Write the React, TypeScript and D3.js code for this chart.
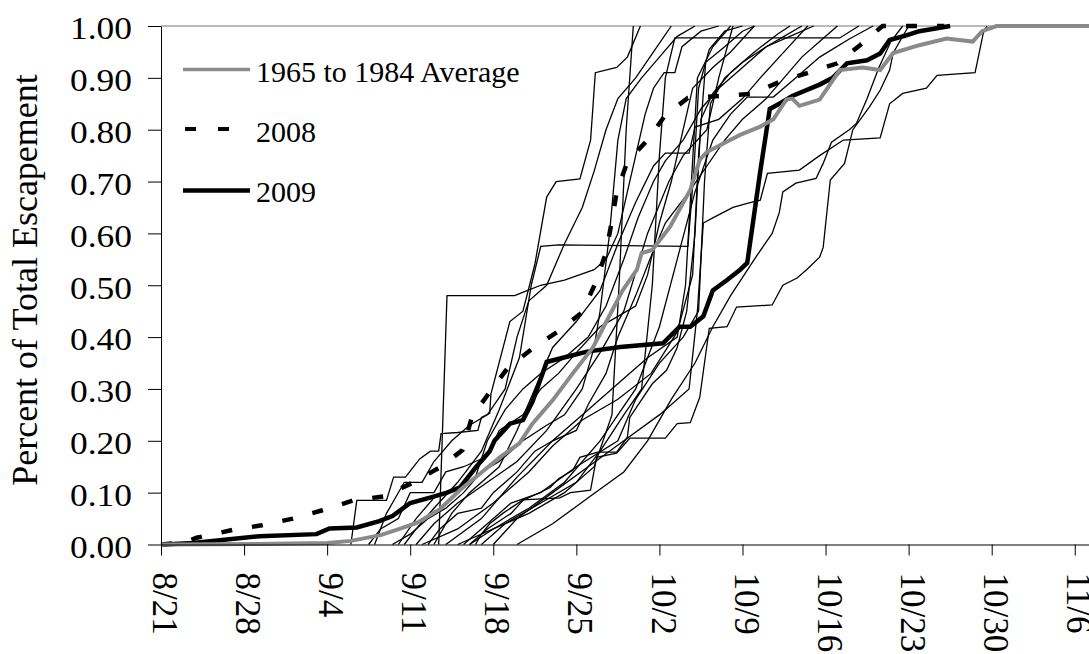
import React, { useRef, useEffect } from "react";
import { select, scaleLinear, line, axisBottom, axisLeft } from "d3";

// x values are days after 8/21
const tickDays = [0, 7, 14, 21, 28, 35, 42, 49, 56, 63, 70, 77];
const tickLabels = ["8/21", "8/28", "9/4", "9/11", "9/18", "9/25", "10/2", "10/9", "10/16", "10/23", "10/30", "11/6"];
const yTicks = [0, 0.1, 0.2, 0.3, 0.4, 0.5, 0.6, 0.7, 0.8, 0.9, 1.0];

const average = [[0, 0], [8, 0.001], [14, 0.003], [16, 0.007], [18.5, 0.018], [20.1, 0.03], [21.6, 0.042], [23.5, 0.068], [25.2, 0.105], [26.9, 0.137], [28.6, 0.169], [30.2, 0.195], [31.3, 0.233], [33.0, 0.278], [34.7, 0.33], [36.4, 0.38], [37.6, 0.433], [38.9, 0.49], [40.1, 0.53], [40.5, 0.562], [41.4, 0.568], [42.9, 0.613], [44.6, 0.684], [45.4, 0.742], [46.0, 0.757], [47.1, 0.77], [48.8, 0.79], [50.5, 0.806], [51.6, 0.82], [52.7, 0.858], [53.2, 0.86], [53.8, 0.846], [55.5, 0.858], [57.2, 0.915], [59.1, 0.92], [60.6, 0.915], [61.7, 0.948], [63.9, 0.963], [66.2, 0.976], [68.4, 0.97], [69.2, 0.99], [70.4, 1.0], [78.2, 1.0]];

const run2008 = [[0, 0], [2, 0.004], [3, 0.013], [6, 0.028], [8.5, 0.037], [11.1, 0.05], [13.6, 0.066], [16.2, 0.085], [18.8, 0.093], [21.1, 0.118], [23.6, 0.15], [25.4, 0.182], [26.2, 0.246], [27.7, 0.294], [29.2, 0.34], [31.3, 0.378], [33.4, 0.41], [35.5, 0.448], [36.6, 0.504], [37.5, 0.563], [38.0, 0.625], [38.4, 0.68], [39.3, 0.738], [41.0, 0.78], [42.5, 0.828], [44.4, 0.861], [47.1, 0.865], [49.8, 0.869], [52.1, 0.892], [54.7, 0.911], [57.0, 0.928], [58.9, 0.963], [60.8, 1.0], [66, 1.0]];

const run2009 = [[0.2, 0], [2.7, 0.003], [8.3, 0.016], [13.1, 0.02], [14.2, 0.031], [16.5, 0.033], [18.4, 0.045], [19.5, 0.055], [21.0, 0.08], [22.9, 0.092], [24.1, 0.1], [25.2, 0.11], [26.5, 0.148], [27.7, 0.18], [28.1, 0.2], [29.4, 0.233], [30.5, 0.24], [31.3, 0.275], [32.5, 0.352], [34.2, 0.362], [35.9, 0.372], [38.7, 0.381], [42.3, 0.388], [43.7, 0.42], [44.6, 0.42], [45.7, 0.44], [46.5, 0.49], [47.7, 0.51], [48.8, 0.53], [49.4, 0.543], [50.5, 0.72], [51.3, 0.84], [52.1, 0.85], [53.2, 0.865], [55.5, 0.887], [56.6, 0.9], [57.8, 0.928], [59.5, 0.934], [60.6, 0.947], [61.4, 0.973], [62.8, 0.982], [63.9, 0.99], [66.5, 1.0]];

// individual years 1965-1984
const y1965 = [[23.4, 0], [24.1, 0.48], [29.8, 0.48], [30.9, 0.49], [32, 0.5], [34, 0.51], [36.5, 0.53], [37.5, 0.55], [38.5, 0.6], [39.3, 0.68], [40, 0.75], [40.8, 0.83], [41.5, 0.88], [42.4, 0.91], [43.3, 0.91], [43.9, 0.96], [45.5, 0.99], [47, 1.0]];
const y1966 = [[20.5, 0], [21.5, 0.03], [23, 0.07], [25, 0.12], [27, 0.18], [28.5, 0.26], [30.2, 0.36], [31.2, 0.5], [32, 0.575], [33.5, 0.578], [44.4, 0.575], [44.9, 0.72], [45.3, 0.88], [46.2, 0.955], [47.5, 0.99], [49, 1.0]];
const y1967 = [[26.5, 0], [27, 0.02], [27.7, 0.04], [28.8, 0.06], [30.5, 0.086], [33.6, 0.09], [34.5, 0.1], [36.2, 0.105], [36.7, 0.168], [38.4, 0.176], [39.5, 0.205], [42.5, 0.205], [43.5, 0.233], [44.6, 0.235], [45.4, 0.284], [46.2, 0.417], [47.7, 0.42], [48.5, 0.458], [51.5, 0.462], [52.4, 0.5], [53.6, 0.514], [54.4, 0.53], [55.5, 0.554], [55.8, 0.573], [56.4, 0.703], [57.6, 0.735], [58.3, 0.8], [59.7, 0.844], [60.6, 0.876], [61.4, 0.915], [61.7, 0.948], [63, 1.0]];
const y1968 = [[28, 0], [30, 0.05], [33, 0.1], [36, 0.15], [39, 0.2], [42, 0.25], [44.5, 0.3], [45.2, 0.45], [45.7, 0.62], [46.5, 0.63], [48.2, 0.65], [49.4, 0.658], [50.5, 0.664], [51.1, 0.716], [53.8, 0.722], [55.5, 0.75], [57.5, 0.78], [60.6, 0.784], [61.4, 0.85], [62.5, 0.87], [64.5, 0.88], [65.4, 0.905], [68.6, 0.91], [69.3, 0.987], [69.6, 1.0]];
const y1969 = [[30, 0], [33, 0.04], [36, 0.09], [39, 0.14], [41, 0.2], [43, 0.28], [45, 0.35], [46.5, 0.42], [48, 0.48], [50, 0.55], [51.5, 0.6], [52.1, 0.64], [52.4, 0.68], [53.5, 0.697], [55.2, 0.706], [55.8, 0.735], [56.5, 0.776], [58, 0.8], [58.6, 0.812], [59.5, 0.86], [60.5, 0.92], [61.5, 0.97], [62.5, 1.0]];
const y1970 = [[16, 0], [16.5, 0.085], [19, 0.085], [19.6, 0.13], [20.6, 0.13], [21.8, 0.165], [22.7, 0.18], [23.4, 0.18], [23.6, 0.214], [25, 0.216], [26.7, 0.22], [27, 0.245], [27.7, 0.253], [27.8, 0.29], [29.4, 0.43], [30.5, 0.45], [31.5, 0.54], [32.5, 0.67], [33.3, 0.7], [35.3, 0.705], [36.2, 0.78], [36.6, 0.91], [38.4, 0.92], [39.3, 0.94], [40.4, 1.0]];
const y1971 = [[25, 0], [28, 0.03], [31, 0.06], [34, 0.1], [36.5, 0.15], [38, 0.25], [38.6, 0.5], [39.2, 0.8], [39.8, 1.0]];
const y1972 = [[27, 0], [29, 0.04], [32, 0.08], [35, 0.12], [37, 0.18], [39, 0.25], [40.5, 0.3], [41.4, 0.5], [42, 0.75], [42.5, 0.9], [43.3, 0.977], [57.2, 0.977], [58.8, 1.0]];
const y1973 = [[24, 0], [27, 0.05], [30, 0.13], [33, 0.2], [36, 0.26], [39, 0.32], [41, 0.36], [43.5, 0.4], [44.2, 0.5], [44.7, 0.7], [45.2, 0.9], [46.5, 0.96], [48, 1.0]];
const y1974 = [[22, 0], [25, 0.03], [28, 0.08], [31, 0.14], [33, 0.19], [35.5, 0.24], [38.5, 0.28], [41.3, 0.33], [43.5, 0.41], [44.8, 0.52], [45.3, 0.75], [45.9, 0.93], [47.5, 0.96], [49, 0.99], [50, 1.0]];
const y1975 = [[25.5, 0], [27.5, 0.04], [29.5, 0.08], [32, 0.1], [35, 0.15], [38.5, 0.2], [40, 0.28], [42, 0.35], [44, 0.4], [45.3, 0.45], [45.8, 0.7], [46.3, 0.85], [47.5, 0.9], [49, 0.93], [51, 0.96], [53, 0.98], [55, 1.0]];
const y1976 = [[21.5, 0], [23, 0.04], [25, 0.08], [27.5, 0.12], [30, 0.16], [32.5, 0.22], [35, 0.3], [37, 0.37], [39, 0.45], [41, 0.6], [42.8, 0.7], [44, 0.75], [46, 0.8], [47, 0.9], [48.2, 1.0]];
const y1977 = [[23, 0], [24.5, 0.06], [26, 0.1], [28.5, 0.15], [30, 0.22], [31.5, 0.3], [33, 0.38], [35, 0.43], [37, 0.49], [38.5, 0.58], [40, 0.66], [41.5, 0.73], [42.5, 0.755], [44.5, 0.755], [45, 0.805], [47, 0.82], [49, 0.86], [50.5, 0.9], [52.5, 0.95], [54.5, 1.0]];
const y1978 = [[26, 0], [28, 0.03], [31, 0.07], [34, 0.12], [37, 0.2], [40, 0.3], [42, 0.42], [43.5, 0.55], [45, 0.68], [46.5, 0.78], [48, 0.83], [49.4, 0.863], [51.6, 0.863], [53.5, 0.9], [55.5, 0.94], [58, 0.975], [60, 1.0]];
const y1979 = [[17.5, 0], [18.5, 0.03], [20, 0.05], [21, 0.1], [23, 0.1], [24, 0.14], [25.5, 0.15], [27.5, 0.17], [28.5, 0.22], [30.5, 0.25], [32, 0.3], [33.5, 0.33], [35, 0.37], [37, 0.42], [38.5, 0.44], [40, 0.46], [41, 0.52], [42, 0.62], [43, 0.7], [44, 0.8], [44.8, 0.88], [46.5, 0.92], [48, 0.95], [50, 1.0]];
const y1980 = [[19.5, 0], [21, 0.02], [22.5, 0.05], [24, 0.07], [25.5, 0.1], [27, 0.14], [28.5, 0.16], [30.5, 0.2], [32.5, 0.23], [34, 0.25], [35.5, 0.3], [36.5, 0.38], [37, 0.45], [37.8, 0.6], [38.5, 0.78], [39.2, 0.86], [40.5, 0.9], [42, 0.94], [43.5, 0.98], [45, 1.0]];
const y1981 = [[22.5, 0], [23.5, 0.03], [25, 0.06], [27, 0.07], [28, 0.1], [30, 0.14], [31.5, 0.18], [33, 0.2], [35, 0.22], [36, 0.27], [37.5, 0.33], [38.5, 0.4], [40, 0.48], [41.2, 0.55], [42.5, 0.62], [43.5, 0.65], [44.5, 0.68], [46, 0.73], [47.5, 0.78], [49, 0.82], [51, 0.86], [52.5, 0.9], [54, 0.94], [55.5, 0.97], [57, 1.0]];
const y1982 = [[26, 0], [27.5, 0.03], [29.5, 0.06], [30.5, 0.085], [32.8, 0.11], [33.5, 0.127], [34.7, 0.143], [35.3, 0.168], [36.8, 0.178], [38.4, 0.178], [39.3, 0.207], [39.5, 0.245], [41.4, 0.31], [42.6, 0.336], [43.5, 0.38], [44.3, 0.45], [45, 0.6], [45.5, 0.82], [46.5, 0.87], [48, 0.91], [50, 0.95], [52, 0.985], [53, 1.0]];
const y1983 = [[20, 0], [21.5, 0.05], [23, 0.09], [25, 0.11], [26.5, 0.13], [27.5, 0.2], [29, 0.26], [30.5, 0.3], [32, 0.33], [34, 0.36], [36, 0.4], [37.5, 0.46], [39, 0.55], [40.2, 0.63], [41.5, 0.7], [42.5, 0.74], [44, 0.78], [45.5, 0.84], [47, 0.88], [49, 0.92], [51, 0.96], [52.5, 0.98], [54, 1.0]];
const y1984 = [[18, 0], [19, 0.06], [20.5, 0.12], [22, 0.12], [23, 0.16], [24.5, 0.2], [26, 0.23], [27.5, 0.25], [29, 0.3], [30, 0.4], [31, 0.47], [32.5, 0.5], [34, 0.58], [35.5, 0.65], [36.5, 0.72], [37.5, 0.8], [38.5, 0.86], [40, 0.9], [41.5, 0.95], [43, 1.0]];

const years = [y1965, y1966, y1967, y1968, y1969, y1970, y1971, y1972, y1973, y1974, y1975, y1976, y1977, y1978, y1979, y1980, y1981, y1982, y1983, y1984];

const serif = "'Liberation Serif', 'Times New Roman', Times, serif";

function EscapementChart()
{
  const svgRef = useRef(null);

  useEffect(() =>
  {
    const svg = select(svgRef.current);
    svg.selectAll("*").remove();

    const x = scaleLinear().domain([0, 78.2]).range([161, 1089]);
    const y = scaleLinear().domain([0, 1]).range([544.5, 26]);

    const path = line().x((d) => x(d[0])).y((d) => y(d[1]));

    // plot area top border
    svg.append("line")
      .attr("x1", 161).attr("x2", 1089)
      .attr("y1", 26).attr("y2", 26)
      .attr("stroke", "#777").attr("stroke-width", 1);

    // thin lines for each year
    svg.append("g")
      .selectAll("path")
      .data(years)
      .join("path")
      .attr("d", (d) => path(d))
      .attr("fill", "none")
      .attr("stroke", "#000")
      .attr("stroke-width", 1.3);

    svg.append("path")
      .attr("d", path(run2008))
      .attr("fill", "none")
      .attr("stroke", "#000")
      .attr("stroke-width", 4.5)
      .attr("stroke-dasharray", "11 20");

    svg.append("path")
      .attr("d", path(run2009))
      .attr("fill", "none")
      .attr("stroke", "#000")
      .attr("stroke-width", 4.5);

    svg.append("path")
      .attr("d", path(average))
      .attr("fill", "none")
      .attr("stroke", "#8a8a8a")
      .attr("stroke-width", 4);

    // Y axis
    const yAxis = axisLeft(y)
      .tickValues(yTicks)
      .tickSize(13)
      .tickSizeOuter(0)
      .tickPadding(16)
      .tickFormat((d) => d.toFixed(2));

    const gy = svg.append("g")
      .attr("transform", "translate(161,0)")
      .call(yAxis);
    gy.select(".domain").attr("stroke", "#000");
    gy.selectAll(".tick line").attr("stroke", "#000");
    gy.selectAll(".tick text")
      .attr("fill", "#000")
      .attr("font-family", serif)
      .attr("font-size", 32)
      .attr("dy", "0.4em")
      .attr("textLength", 62)
      .attr("lengthAdjust", "spacingAndGlyphs");

    // X axis
    const xAxis = axisBottom(x)
      .tickValues(tickDays)
      .tickSize(11)
      .tickSizeOuter(0)
      .tickFormat((d, i) => tickLabels[i]);

    const gx = svg.append("g")
      .attr("transform", "translate(0,544.5)")
      .call(xAxis);
    gx.select(".domain").attr("stroke", "#000");
    gx.selectAll(".tick line").attr("stroke", "#000");
    gx.selectAll(".tick text")
      .attr("fill", "#000")
      .attr("font-family", serif)
      .attr("font-size", 35)
      .attr("text-anchor", "start")
      .attr("transform", "rotate(90)")
      .attr("x", 28)
      .attr("y", 0)
      .attr("dy", "0.24em");

    // y title
    svg.append("text")
      .attr("transform", "translate(37,280) rotate(-90)")
      .attr("text-anchor", "middle")
      .attr("font-family", serif)
      .attr("font-size", 36)
      .attr("fill", "#000")
      .text("Percent of Total Escapement");

    // legend
    const legend = svg.append("g");
    const items = [
      { label: "1965 to 1984 Average", stroke: "#8a8a8a", width: 3.5, dash: null, ly: 69.5, ty: 82, x2: 250 },
      { label: "2008", stroke: "#000", width: 4, dash: "11 22", ly: 129, ty: 142, x2: 230 },
      { label: "2009", stroke: "#000", width: 4.5, dash: null, ly: 190.5, ty: 202, x2: 250 },
    ];
    items.forEach((it) =>
    {
      legend.append("line")
        .attr("x1", it.dash ? 185 : 183).attr("x2", it.x2)
        .attr("y1", it.ly).attr("y2", it.ly)
        .attr("stroke", it.stroke)
        .attr("stroke-width", it.width)
        .attr("stroke-dasharray", it.dash);
      legend.append("text")
        .attr("x", 256).attr("y", it.ty)
        .attr("font-family", serif)
        .attr("font-size", 30)
        .attr("fill", "#000")
        .text(it.label);
    });
  }, []);

  return (
    <svg
      ref={svgRef}
      width={1089}
      height={654}
      style={{ position: "absolute", left: 0, top: 0, overflow: "hidden", background: "#fff" }}
    />
  );
}

export default function App()
{
  return <EscapementChart />;
}
